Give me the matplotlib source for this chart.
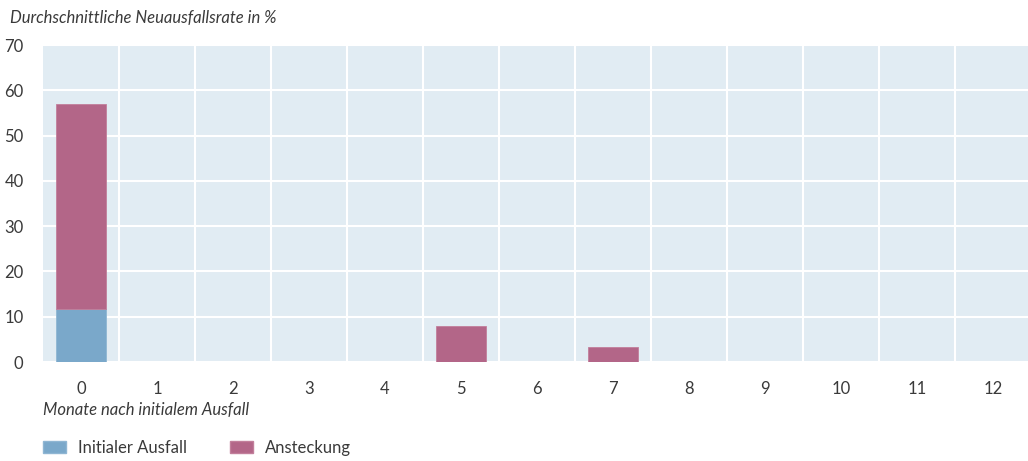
import numpy as np
import matplotlib.pyplot as plt
from matplotlib.patches import Patch

months = np.arange(13)
month_labels = [str(m) for m in months]
initial = [11.7, 0, 0, 0, 0, 0, 0, 0, 0, 0, 0, 0, 0]
contagion = [45.3, 0, 0, 0, 0, 7.9, 0, 3.3, 0, 0, 0, 0, 0]

blue = '#7aa8ca'
pink = '#b36688'
bg = '#e1ecf3'
text_col = '#3a3a3a'

plt.rcParams['font.family'] = ['Lato', 'DejaVu Sans']

fig = plt.figure(figsize=(10.28, 4.61), dpi=100)
ax = fig.add_axes([43 / 1028, 99 / 461, 985 / 1028, 317 / 461])
ax.set_facecolor(bg)

w = 0.67
ax.bar(months, initial, width=w, color=blue, edgecolor='#8fb6d3', linewidth=0.6, zorder=3)
ax.bar(months, contagion, width=w, bottom=initial, color=pink, edgecolor='#c27f9b',
       linewidth=0.6, zorder=3)

ax.set_xlim(-0.5, 12.46)
ax.set_ylim(0, 70)
ax.set_yticks(range(0, 71, 10))
ax.set_xticks(months)
ax.set_xticklabels(month_labels)
ax.set_xticks(np.arange(0.5, 12, 1), minor=True)
ax.tick_params(which='both', length=0, labelsize=12, colors=text_col)
ax.tick_params(axis='x', pad=14)
ax.tick_params(axis='y', pad=14)

ax.grid(axis='y', which='major', color='white', linewidth=1.5, zorder=1)
ax.grid(axis='x', which='minor', color='white', linewidth=1.5, zorder=1)
ax.set_axisbelow(True)
for s in ax.spines.values():
    s.set_visible(False)

fig.text(10 / 1028, 1 - 18 / 461, 'Durchschnittliche Neuausfallsrate in %', fontsize=12,
         style='italic', color=text_col, va='center', ha='left')
fig.text(43 / 1028, 1 - 410 / 461, 'Monate nach initialem Ausfall', fontsize=12,
         style='italic', color=text_col, va='center', ha='left')

handles = [Patch(facecolor=blue, edgecolor='#8fb6d3'), Patch(facecolor=pink, edgecolor='#c27f9b')]
fig.legend(handles, ['Initialer Ausfall', 'Ansteckung'], loc='center left',
           bbox_to_anchor=(43 / 1028, 1 - 448 / 461), ncol=2, frameon=False,
           borderpad=0, borderaxespad=0,
           fontsize=12, handlelength=1.38, handleheight=0.7, columnspacing=2.6,
           handletextpad=0.7, labelcolor=text_col)

fig.savefig('out.png', dpi=100)
